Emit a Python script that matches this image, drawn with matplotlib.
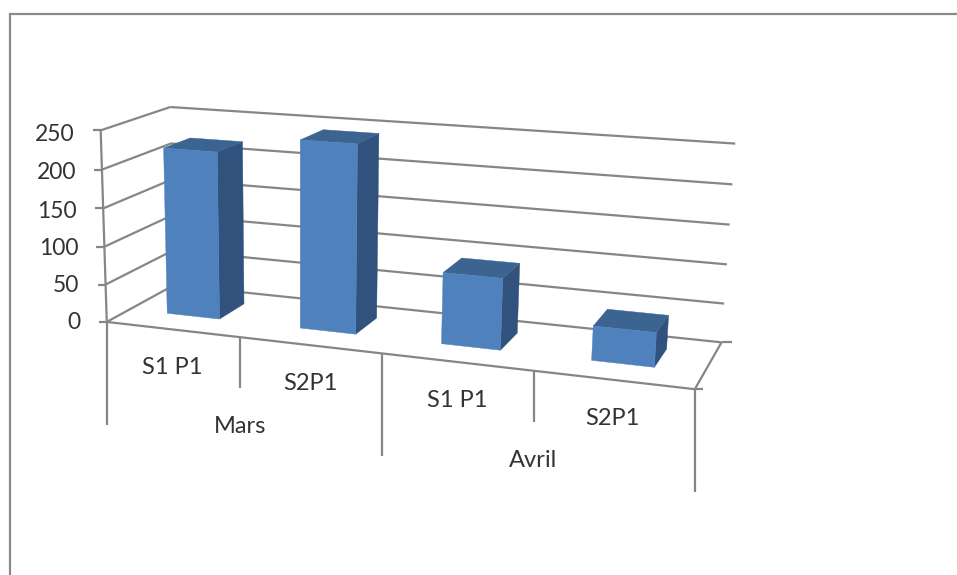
import numpy as np
import matplotlib
matplotlib.use("Agg")
import matplotlib.pyplot as plt
from matplotlib.patches import Polygon

# chart data
months = ["Mars", "Avril"]
categories = ["S1 P1", "S2P1", "S1 P1", "S2P1"]
values = [220, 243, 91, 43]
value_ticks = [0, 50, 100, 150, 200, 250]

grid_color = "#868686"
text_color = "#333333"
front_color = "#4F81BD"
top_color = "#3B6491"
side_color = "#30527D"

plt.rcParams["font.family"] = ["Lato", "DejaVu Sans"]

# box corners in (category, value, depth) and where they land on the canvas
anchors = [
    ((0, 0, 0), (108.5, 321)),
    ((1, 0, 0), (241, 337)),
    ((2, 0, 0), (382, 354)),
    ((3, 0, 0), (533, 372)),
    ((4, 0, 0), (695, 389)),
    ((0, 0, 1), (172, 286)),
    ((4, 0, 1), (722, 341)),
    ((0, 250, 0), (99, 130)),
    ((0, 250, 1), (172, 107)),
    ((4, 250, 1), (735, 144)),
]


def fit_camera(anchors):
    # least squares for a 3x4 projection with the last entry fixed at 1
    rows = []
    rhs = []
    for (u, v, z), (px, py) in anchors:
        p = [u, v / 250, z, 1]
        rows.append(p + [0, 0, 0, 0] + [-px * c for c in p[:3]])
        rhs.append(px)
        rows.append([0, 0, 0, 0] + p + [-py * c for c in p[:3]])
        rhs.append(py)
    sol = np.linalg.lstsq(np.array(rows), np.array(rhs), rcond=None)[0]
    return np.append(sol, 1).reshape(3, 4)


camera = fit_camera(anchors)


def project(u, v, z):
    h = camera @ np.array([u, v / 250, z, 1])
    return h[0] / h[2], h[1] / h[2]


fig = plt.figure(figsize=(9.57, 5.75), dpi=100)
ax = fig.add_axes([0, 0, 1, 1])
ax.set_xlim(0, 957)
ax.set_ylim(575, 0)
ax.axis("off")


def line(p, q, lw=1.6, z=2):
    ax.plot([p[0], q[0]], [p[1], q[1]], color=grid_color, lw=lw,
            solid_capstyle="butt", zorder=z)


# outer chart border, runs off the canvas on the other two sides
ax.plot([9.5, 9.5, 957], [575, 13.5, 13.5], color="#8A8A8A", lw=1.6,
        solid_joinstyle="miter", zorder=1)

# gridlines on the side wall and the back wall
n_cat = len(categories)
for val in value_ticks:
    line(project(0, val, 0), project(0, val, 1))
    line(project(0, val, 1), project(n_cat, val, 1))
    p = project(0, val, 0)
    line((p[0] - 8, p[1]), p)
    # labels sit a little closer together than the ticks
    ax.text(p[0] - 26, p[1] + 0.5 + val / 250 * 3.5, str(val), ha="right",
            va="center", fontsize=16.5, color=text_color)

# floor and axes
line(project(0, 0, 0), project(0, 250, 0))
line(project(0, 0, 0), project(n_cat, 0, 0), z=6)
line(project(n_cat, 0, 0), project(n_cat, 0, 1))
for z, stub in [(0, 8), (1, 10)]:
    p = project(n_cat, 0, z)
    line(p, (p[0] + stub, p[1]))

# columns, painted left to right
bar_lo, bar_hi = 0.33, 0.73
for i, val in enumerate(values):
    x0, x1 = i + 0.29, i + 0.69
    front = [project(x0, 0, bar_lo), project(x1, 0, bar_lo),
             project(x1, val, bar_lo), project(x0, val, bar_lo)]
    side = [project(x1, 0, bar_lo), project(x1, 0, bar_hi),
            project(x1, val, bar_hi), project(x1, val, bar_lo)]
    top = [project(x0, val, bar_lo), project(x1, val, bar_lo),
           project(x1, val, bar_hi), project(x0, val, bar_hi)]
    for pts, col in [(side, side_color), (top, top_color), (front, front_color)]:
        ax.add_patch(Polygon(pts, closed=True, facecolor=col, edgecolor=col,
                             lw=0.3, zorder=4))

# two level category axis below the floor
for i in range(n_cat + 1):
    p = project(i, 0, 0)
    drop = 103 if i % 2 == 0 else 51
    line(p, (p[0], p[1] + drop))
for i, name in enumerate(categories):
    p = project(i + 0.5, 0, 0)
    ax.text(p[0], p[1] + 38.5, name, ha="center", va="center",
            fontsize=17, color=text_color)
for i, name in enumerate(months):
    p = project(2 * i + 1, 0, 0)
    ax.text(p[0], p[1] + 89.5, name, ha="center", va="center",
            fontsize=17, color=text_color)

fig.savefig("out.png", dpi=100, facecolor="white")
